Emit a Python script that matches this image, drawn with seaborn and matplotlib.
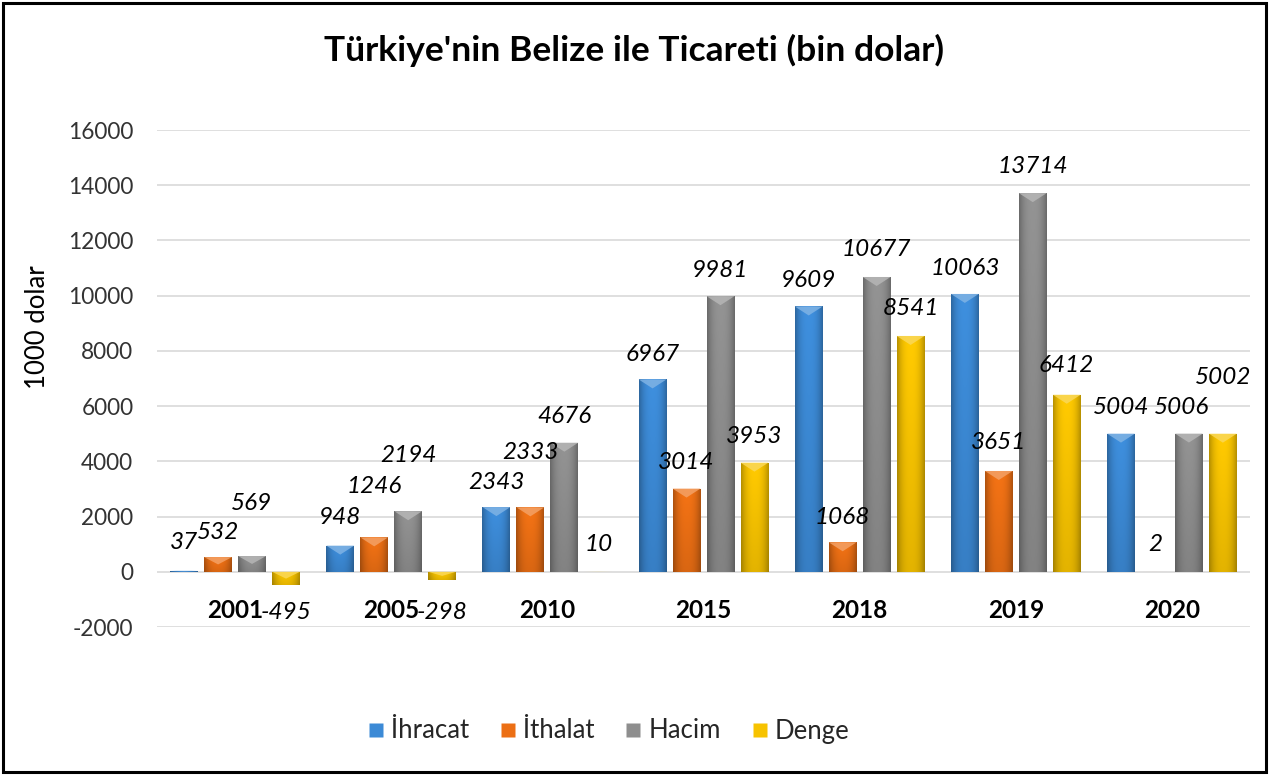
import numpy as np
import pandas as pd
import matplotlib
matplotlib.use('Agg')
import matplotlib.pyplot as plt
import seaborn as sns
from matplotlib.patches import Polygon, Rectangle
from matplotlib.lines import Line2D
from matplotlib.colors import to_rgb

# ---- data ----
years = ['2001', '2005', '2010', '2015', '2018', '2019', '2020']
series = ['İhracat', 'İthalat', 'Hacim', 'Denge']
ihracat = [37, 948, 2343, 6967, 9609, 10063, 5004]
ithalat = [532, 1246, 2333, 3014, 1068, 3651, 2]
hacim = [569, 2194, 4676, 9981, 10677, 13714, 5006]
denge = [-495, -298, 10, 3953, 8541, 6412, 5002]
yticks = list(range(-2000, 16001, 2000))

# ---- style ----
colors = ['#3C8AD6', '#EC6F14', '#8E8E8E', '#F7C300']
# label offsets (pixels) relative to bar end
label_dy = [[28, 28, 25, 25, 26, 25, 26],
            [25, 51, 55, 26, 25, 28, 27],
            [53, 56, 26, 26, 27, 27, 26],
            [-27, -32, 27, 26, 27, 29, 56]]
label_dx = [[0] * 7, [0] * 7, [0, 0, 0, 0, 0, 0, -7], [0] * 7]

sns.set_theme(style='white')
plt.rcParams['font.family'] = ['Lato', 'DejaVu Sans']

values = [ihracat, ithalat, hacim, denge]
rows = []
for s, vals in zip(series, values):
    for y, v in zip(years, vals):
        rows.append({'year': y, 'series': s, 'value': v})
df = pd.DataFrame(rows)

W, H = 1269, 775
fig = plt.figure(figsize=(W / 100, H / 100), dpi=100)
fig.patch.set_facecolor('white')
ax = fig.add_axes([157 / W, 1 - 627 / H, (1250 - 157) / W, (627 - 130) / H])

sns.barplot(data=df, x='year', y='value', hue='series', order=years,
            hue_order=series, palette=colors, saturation=1, width=0.87,
            gap=0.18, errorbar=None, legend=False, ax=ax, zorder=3,
            edgecolor='none')

ax.set_xlim(-0.5, 6.5)
ax.set_ylim(-2000, 16000)
ax.set_yticks(yticks)
ax.set_yticklabels([str(t) for t in yticks])
ax.yaxis.grid(True, color='#D9D9D9', lw=1.2)
ax.xaxis.grid(False)
ax.set_axisbelow(True)
for sp in ax.spines.values():
    sp.set_visible(False)

ax.tick_params(axis='y', length=0, pad=17, labelsize=16.3, labelcolor='#333333')
ax.tick_params(axis='x', length=0, pad=-12.2, labelsize=17.5, labelcolor='black')
for lbl in ax.get_xticklabels():
    lbl.set_fontweight('bold')
    lbl.set_va('center')
ax.set_xlabel('')
ax.set_ylabel('1000 dolar', fontsize=18.5, color='black')
ax.yaxis.set_label_coords(-0.098, (627 - 327) / 497)

px_per_unit = 497 / 18000.0


def shade_bar(bar, color):
    x0, w = bar.get_x(), bar.get_width()
    y0, h = bar.get_y(), bar.get_height()
    if w == 0 or h == 0:
        return
    base = np.array(to_rgb(color))
    u = np.linspace(0, 1, 40)
    hx = 1 - 0.28 * np.abs(2 * u - 1) ** 2.5
    v = np.linspace(0, 1, 60)
    vy = 0.92 + 0.12 * v
    f = vy[:, None] * hx[None, :]
    img = np.clip(base[None, None, :] * f[:, :, None], 0, 1)
    ylo, yhi = min(y0, y0 + h), max(y0, y0 + h)
    im = ax.imshow(img, extent=[x0, x0 + w, ylo, yhi], origin='lower',
                   aspect='auto', zorder=3.1, interpolation='bilinear')
    im.set_clip_path(bar)
    # bevel highlight at top end
    end = yhi
    d = min(9 / px_per_unit, abs(h) * 0.5)
    light = base + (1 - base) * 0.35
    tri = Polygon([[x0, end], [x0 + w, end], [x0 + w / 2, end - d]],
                  closed=True, facecolor=light, edgecolor='none',
                  alpha=0.85, zorder=3.2)
    ax.add_patch(tri)


for i, cont in enumerate(ax.containers):
    for j, bar in enumerate(cont):
        shade_bar(bar, colors[i])
        v = values[i][j]
        xc = bar.get_x() + bar.get_width() / 2
        ax.annotate(str(v), xy=(xc, v), xytext=(label_dx[i][j], label_dy[i][j]),
                    textcoords='offset pixels', ha='center', va='center',
                    fontsize=17.5, fontstyle='italic', color='black', zorder=5)

ax.set_xlim(-0.5, 6.5)
ax.set_ylim(-2000, 16000)

fig.text(0.5, 1 - 50 / H, "Türkiye'nin Belize ile Ticareti (bin dolar)",
         ha='center', va='center', fontsize=25.5, fontweight='bold', color='black')

handles = [Line2D([], [], marker='s', linestyle='none', markersize=10,
                  markerfacecolor=c, markeredgecolor='none') for c in colors]
fig.legend(handles, series, loc='center', bbox_to_anchor=(609 / W, 1 - 731 / H),
           ncol=4, frameon=False, fontsize=18.5, handlelength=0.55,
           handletextpad=0.3, columnspacing=1.25)

fig.add_artist(Rectangle((3 / W, 3 / H), 1 - 6 / W, 1 - 6 / H,
                         transform=fig.transFigure, fill=False, lw=2.2,
                         edgecolor='black'))

fig.savefig('out.png', dpi=100)
